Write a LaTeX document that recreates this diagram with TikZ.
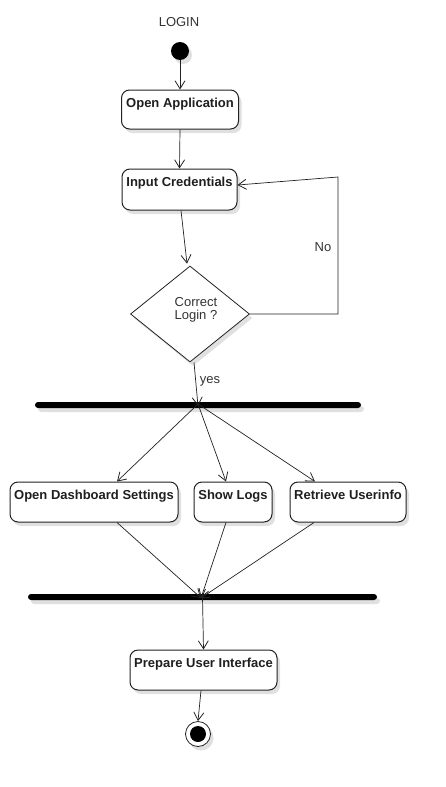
\documentclass[tikz,border=0pt]{standalone}
\usepackage{fontspec}
\setmainfont{Liberation Sans}
\usetikzlibrary{shapes.geometric,arrows.meta,shadows}
\definecolor{txt}{HTML}{333333}
\definecolor{ln}{HTML}{222222}
\tikzset{
  shade/.style={drop shadow={shadow xshift=3pt,shadow yshift=-4pt,opacity=0.12,fill=black}},
  actbox/.style={draw=ln,line width=1pt,rounded corners=8pt,fill=white,shade,inner sep=0pt},
  lab/.style={anchor=base,font=\fontsize{13}{15}\selectfont\bfseries,text=black!88,label distance=-17.5pt},
  plain/.style={font=\fontsize{13}{13}\selectfont,text=txt,inner sep=0pt},
  conn/.style={draw=ln,line width=0.7pt,-{Straight Barb[length=8pt,width=10pt,line width=0.8pt]}},
  bar/.style={fill=black,rounded corners=3pt,minimum height=6pt,inner sep=0pt,shade},
}
\begin{document}
\begin{tikzpicture}[x=1pt,y=-1pt]
\useasboundingbox (0,0) rectangle (446,787);

\node (login) [plain] at (179,22.5) {LOGIN};
\node (init) [circle,fill=black,minimum size=18pt,inner sep=0pt,shade] at (180,51) {};

\node (oa) [actbox,minimum width=117pt,minimum height=39pt,label={[lab]north:Open Application}] at (180,109.5) {};
\node (ic) [actbox,minimum width=115pt,minimum height=41pt,label={[lab]north:Input Credentials}] at (179.5,189.5) {};
\node (dec) [diamond,draw=ln,line width=0.8pt,fill=white,minimum width=119pt,minimum height=96pt,inner sep=0pt,shade] at (190,314) {};
\node (dectext) [plain,align=center] at (196,309.5) {Correct\\Login ?};

\coordinate (no1) at (338,314);
\coordinate (no2) at (338,177);
\node (nolab) [plain] at (323,247) {No};
\node (yeslab) [plain] at (210,381.5) {yes};

\node (fork) [bar,minimum width=326pt] at (198,405) {};

\node (ods) [actbox,minimum width=168pt,minimum height=40pt,label={[lab]north:Open Dashboard Settings}] at (94,502) {};
\node (sl) [actbox,minimum width=78pt,minimum height=40pt,label={[lab]north:Show Logs}] at (233,502) {};
\node (ru) [actbox,minimum width=116pt,minimum height=40pt,label={[lab]north:Retrieve Userinfo}] at (348,502) {};

\node (join) [bar,minimum width=349pt] at (202.5,597) {};

\node (pui) [actbox,minimum width=147pt,minimum height=40pt,label={[lab]north:Prepare User Interface}] at (203.5,670) {};

\node (fin) [circle,draw=ln,line width=0.8pt,fill=white,minimum size=25pt,inner sep=0pt,shade] at (198,734) {};
\fill (fin.center) circle (8pt);

\draw[conn] (init) -- (oa.north);
\draw[conn] (oa.south) -- (ic.north);
\draw[conn] ([xshift=1.5pt]ic.south) -- ([xshift=-3pt,yshift=2pt]dec.north);
\draw[conn] (dec.east) -- (no1) -- (no2) -- ([yshift=4.5pt]ic.east);
\draw[conn] ([xshift=4pt]dec.south) -- ([yshift=-1pt]fork.center);

\draw[conn] ([yshift=1pt]fork.center) -- ([xshift=23pt]ods.north);
\draw[conn] ([yshift=1pt]fork.center) -- ([xshift=-7pt]sl.north);
\draw[conn] ([yshift=1pt]fork.center) -- ([xshift=-33pt]ru.north);

\draw[conn] ([xshift=23pt]ods.south) -- ([xshift=-1.5pt,yshift=-1pt]join.center);
\draw[conn] ([xshift=-7pt]sl.south) -- ([xshift=-1.5pt,yshift=-1pt]join.center);
\draw[conn] ([xshift=-34pt]ru.south) -- ([xshift=-1.5pt,yshift=-1pt]join.center);

\draw[conn] (join.center) -- (pui.north);
\draw[conn] ([xshift=-2.5pt]pui.south) -- (fin.north);
\end{tikzpicture}
\end{document}
